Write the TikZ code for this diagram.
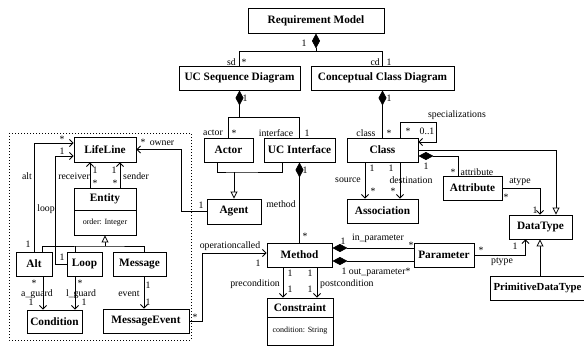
\documentclass[tikz,border=0pt]{standalone}
\usepackage{fontspec}
\setmainfont{Liberation Serif}
\usetikzlibrary{arrows.meta,calc}
\begin{document}
\begin{tikzpicture}[x=1pt,y=-1pt,
  cls/.style={draw, line width=0.9pt, font=\bfseries\fontsize{11.3}{12}\selectfont, inner sep=0pt, anchor=center},
  attr/.style={draw, line width=0.9pt, font=\fontsize{8}{9}\selectfont, inner sep=0pt, anchor=center},
  lbl/.style={font=\fontsize{9.8}{10}\selectfont, inner sep=0pt},
  con/.style={line width=0.8pt},
  nav/.style={con, -{Straight Barb[length=3.5pt,width=7pt]}},
  gen/.style={con, -{Triangle[open,length=7pt,width=7pt,fill=white]}},
  comp/.style={con, {Diamond[length=15pt,width=8pt]}-},
  frame/.style={line width=1pt, dash pattern=on 1pt off 2pt}
]
\useasboundingbox (0,0) rectangle (584,346);
\fill[white] (0,0) rectangle (584,346);
% dotted frame
\draw[frame] (9,133) rectangle (191,340);
% classes
\node[cls, minimum width=136pt, minimum height=25pt] (req) at (316,20.5) {Requirement Model};
\node[cls, minimum width=121pt, minimum height=24pt] (ucsd) at (239.5,78) {UC Sequence Diagram};
\node[cls, minimum width=143pt, minimum height=24pt] (ccd) at (382.5,78) {Conceptual Class Diagram};
\node[cls, minimum width=49pt, minimum height=24pt] (actor) at (228.5,150) {Actor};
\node[cls, minimum width=71pt, minimum height=24pt] (ucint) at (299.5,150) {UC Interface};
\node[cls, minimum width=54pt, minimum height=25pt] (agent) at (234,211.5) {Agent};
\node[cls, minimum width=65pt, minimum height=24pt] (method) at (299.5,255) {Method};
\node[cls, minimum width=66pt, minimum height=19pt] (constraint) at (300,307.5) {Constraint};
\node[attr, minimum width=66pt, minimum height=28pt] (constraintattr) at (300,331) {condition: String};
\node[cls, minimum width=62pt, minimum height=25pt] (lifeline) at (105,149.5) {LifeLine};
\node[cls, minimum width=62pt, minimum height=22pt] (entity) at (105,199) {Entity};
\node[attr, minimum width=62pt, minimum height=25pt] (entityattr) at (105,222.5) {order: Integer};
\node[cls, minimum width=36pt, minimum height=24pt] (alt) at (34,264) {Alt};
\node[cls, minimum width=35pt, minimum height=24pt] (loop) at (84.5,264) {Loop};
\node[cls, minimum width=53pt, minimum height=24pt] (message) at (139.5,264) {Message};
\node[cls, minimum width=55pt, minimum height=23pt] (condition) at (54.5,321.5) {Condition};
\node[cls, minimum width=86pt, minimum height=24pt] (msgevent) at (146,321) {MessageEvent};
\node[cls, minimum width=71pt, minimum height=24pt] (class) at (382.5,150) {Class};
\node[cls, minimum width=71pt, minimum height=24pt] (association) at (382.5,211) {Association};
\node[cls, minimum width=59pt, minimum height=24pt] (attribute) at (472.5,188) {Attribute};
\node[cls, minimum width=63pt, minimum height=24pt] (datatype) at (540.5,227) {DataType};
\node[cls, minimum width=60pt, minimum height=24pt] (parameter) at (444,255) {Parameter};
\node[cls, font=\bfseries\fontsize{10.8}{12}\selectfont, minimum width=100pt, minimum height=24pt] (primitive) at (540,288) {PrimitiveDataType\hspace*{5pt}};

% Requirement model compositions
\coordinate (j1) at (316,51);
\draw[comp] (req.south) -- (j1) -| (ucsd.north);
\draw[con] (j1) -| (ccd.north);
\node[lbl] (l1) at (304,43) {1};
\node[lbl, anchor=east] (lsd) at (236,62) {sd};
\node[lbl] (lsds) at (244,62) {*};
\node[lbl, anchor=east] (lcd) at (380,62) {cd};
\node[lbl] (lcd1) at (389,62) {1};

% UC sequence diagram
\coordinate (j2) at (239.5,117);
\draw[comp] (ucsd.south) -- (j2) -| (actor.north);
\draw[con] (j2) -| (ucint.north);
\node[lbl] (l2) at (245,98) {1};
\node[lbl] (lactor) at (213,133) {actor};
\node[lbl] (lactors) at (234,133) {*};
\node[lbl] (linterface) at (276,133) {interface};
\node[lbl] (linterface1) at (307,133) {1};

% Conceptual class diagram
\draw[comp] (ccd.south) -- (class.north);
\node[lbl] (l3) at (389,98) {1};
\node[lbl] (lclass) at (366,133) {class};
\node[lbl] (lclasss) at (389,133) {*};

% UC Interface -> Method
\draw[comp] (ucint.south) -- (method.north);
\node[lbl] (l4) at (305,170) {1};
\node[lbl] (l4s) at (305,236) {*};
\node[lbl] (lmethod) at (281,204) {method};

% generalisation Actor/UC Interface -> Agent
\coordinate (j3) at (234,172);
\draw[con] ([xshift=-11.5pt]actor.south) |- (j3) -| ([xshift=-17.5pt]ucint.south);
\draw[gen] (j3) -- (agent.north);

% owner
\draw[nav] (agent.west) -- ++(-25,0) |- (lifeline.east);
\node[lbl] (lown1) at (201,205) {1};
\node[lbl] (lowns) at (143,142) {*};
\node[lbl] (lowner) at (162,143) {owner};

% alt, loop
\draw[nav] (alt.north) |- ([yshift=6.5pt]lifeline.west);
\node[lbl] (lalt) at (27,176) {alt};
\node[lbl] (lalt1) at (28,244) {1};
\node[lbl] (lalts) at (62,139) {*};
\draw[nav] (loop.west) -- ++(-11,0) |- ([yshift=-6.5pt]lifeline.west);
\node[lbl] (lloop) at (46,209) {loop};
\node[lbl] (lloop1) at (62,151) {1};
\node[lbl] (lloop2) at (62,257) {1};

% receiver / sender
\draw[nav] ([xshift=-15pt]entity.north) -- ([xshift=-15pt]lifeline.south);
\draw[nav] ([xshift=15pt]entity.north) -- ([xshift=15pt]lifeline.south);
\node[lbl, anchor=east] (lrec) at (90,176) {receiver};
\node[lbl] (lrec1) at (95,170) {1};
\node[lbl] (lrecs) at (95,183) {*};
\node[lbl] (lsnd1) at (114,170) {1};
\node[lbl] (lsnds) at (115,183) {*};
\node[lbl, anchor=west] (lsnd) at (123,176) {sender};

% generalisation Alt/Loop/Message -> Entity
\coordinate (j4) at (105,246);
\draw[con] ([xshift=8pt]alt.north) |- (j4) -| ([xshift=4.5pt]message.north);
\draw[con] ([xshift=-9.5pt]loop.north) -- ([xshift=-9.5pt]loop.north |- j4);
\draw[gen] (j4) -- (entityattr.south);

% guards and event
\draw[nav] ([xshift=9pt]alt.south) -- ([xshift=9pt]alt.south |- condition.north);
\node[lbl] (lag1) at (34,283) {*};
\node[lbl] (lag) at (37,294) {a\_guard};
\node[lbl] (lag2) at (31,302) {1};
\draw[nav] ([xshift=-9.5pt]loop.south) -- ([xshift=-9.5pt]loop.south |- condition.north);
\node[lbl] (llg1) at (80,283) {*};
\node[lbl] (llg) at (81,294) {l\_guard};
\node[lbl] (llg2) at (84,302) {1};
\draw[nav] ([xshift=4.5pt]message.south) -- ([xshift=4.5pt]message.south |- msgevent.north);
\node[lbl] (lev1) at (148,285) {1};
\node[lbl] (lev) at (129,294) {event};
\node[lbl] (lev2) at (148,302) {1};

% operationcalled
\draw[nav] (msgevent.east) -- ++(13,0) |- ([yshift=2pt]method.west);
\node[lbl] (lops) at (195,317) {*};
\node[lbl] (lop) at (230,246) {operationcalled};
\node[lbl] (lop1) at (258,263) {1};

% pre/postcondition
\draw[nav] ([xshift=-16.5pt]method.south) -- ([xshift=-16.5pt]method.south |- constraint.north);
\draw[nav] ([xshift=17.5pt]method.south) -- ([xshift=17.5pt]method.south |- constraint.north);
\node[lbl] (lpre1) at (290,273) {1};
\node[lbl] (lpre2) at (290,289) {1};
\node[lbl, anchor=east] (lpre) at (280,284) {precondition};
\node[lbl] (lpost1) at (310,273) {1};
\node[lbl] (lpost2) at (310,289) {1};
\node[lbl, anchor=west] (lpost) at (320,284) {postcondition};

% parameters
\draw[comp] ([yshift=7pt]method.east) -- ([yshift=7pt]parameter.west);
\draw[comp] ([yshift=-6pt]method.east) -- ([yshift=-6pt]parameter.west);
\node[lbl] (lin1) at (343,241) {1};
\node[lbl] (lin) at (378,238) {in\_parameter};
\node[lbl] (lins) at (411,245) {*};
\node[lbl] (lout) at (376,272) {1 out\_parameter*};

% class self association
\coordinate (sp) at (436,122);
\draw[nav] ([xshift=17.5pt]class.north) |- (sp) |- ([yshift=8pt]class.east);
\node[lbl] (lspec) at (457,115) {specializations};
\node[lbl] (lsps) at (408,131) {*};
\node[lbl] (lsp01) at (427,131) {0..1};

% Class -> DataType generalisation
\draw[gen] (class.east) -| ([xshift=15.5pt]datatype.north);

% attribute
\draw[comp] ([yshift=-6pt]class.east) -| ([xshift=-14.5pt]attribute.north);
\node[lbl] (lat1) at (426,166) {1};
\node[lbl] (lats) at (453,172) {*};
\node[lbl] (lat) at (477,172) {attribute};

% atype
\draw[nav] (attribute.east) -| ([xshift=-0.5pt]datatype.north);
\node[lbl] (laty) at (520,182) {atype};
\node[lbl] (latys) at (506,197) {*};
\node[lbl] (laty1) at (535,210) {1};

% ptype
\draw[nav] (parameter.east) -| ([xshift=-15pt]datatype.south);
\node[lbl] (lpts) at (481,250) {*};
\node[lbl] (lpt1) at (515,246) {1};
\node[lbl] (lpt) at (502,262) {ptype};

% primitive -> datatype
\draw[gen] (primitive.north) -- (primitive.north |- datatype.south);

% source / destination
\draw[nav] ([xshift=-17.5pt]class.south) -- ([xshift=-17.5pt]association.north);
\draw[nav] ([xshift=17.5pt]class.south) -- ([xshift=17.5pt]association.north);
\node[lbl] (lsrc1) at (372,168) {1};
\node[lbl] (ldst1) at (391,168) {1};
\node[lbl] (lsrc) at (348,180) {source};
\node[lbl] (ldst) at (411,180) {destination};
\node[lbl] (lsrcs) at (373,191) {*};
\node[lbl] (ldsts) at (393,191) {*};
\end{tikzpicture}
\end{document}
